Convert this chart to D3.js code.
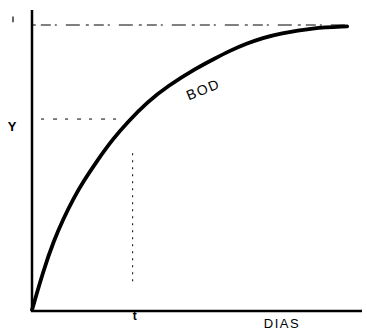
<!DOCTYPE html>
<html>
<head>
<meta charset="utf-8">
<script src="https://cdn.jsdelivr.net/npm/d3@7"></script>
<style>
  body { margin: 0; background: #fff; }
  svg { display: block; }
  text { font-family: "Liberation Sans", Arial, sans-serif; fill: #000; }
</style>
</head>
<body>
<svg width="367" height="332"></svg>
<script>
// BOD curve (days, fraction of ultimate BOD)
var days = [0, 0.7, 1.3, 1.9, 2.5, 3.1, 3.9, 4.9, 5.8, 7, 8.2, 10, 11, 12, 13, 14, 15, 17, 19.1];
var bod  = [0, 0.14, 0.24, 0.32, 0.39, 0.45, 0.52, 0.6, 0.66, 0.73, 0.785, 0.85, 0.88, 0.91, 0.935, 0.955, 0.97, 0.99, 0.995];
var tDay = 6.1;      // marked time t
var yLevel = 0.67;   // marked value Y
var xLabel = "DIAS", yLabel = "Y", curveLabel = "BOD", tLabel = "t";

var svg = d3.select("svg");
var x = d3.scaleLinear().domain([0, 20]).range([32, 362]);
var y = d3.scaleLinear().domain([0, 1]).range([310, 25]);

var pts = d3.zip(days, bod);

// guide lines
svg.append("line")
    .attr("x1", x(0.05)).attr("x2", x(19))
    .attr("y1", y(1)).attr("y2", y(1))
    .attr("stroke", "#000").attr("stroke-width", 1)
    .attr("stroke-dasharray", "3,5,10,4,2,9,14,6");

svg.append("line")
    .attr("x1", x(0.55)).attr("x2", x(5.2))
    .attr("y1", y(yLevel)).attr("y2", y(yLevel))
    .attr("stroke", "#000").attr("stroke-width", 1)
    .attr("stroke-dasharray", "3,9,4,8");

svg.append("line")
    .attr("x1", x(tDay)).attr("x2", x(tDay))
    .attr("y1", y(0.55)).attr("y2", y(0.09))
    .attr("stroke", "#000").attr("stroke-width", 1)
    .attr("stroke-dasharray", "2,5");

// axes
svg.append("line")
    .attr("x1", x(0)).attr("x2", x(0))
    .attr("y1", y(0) + 1).attr("y2", y(1.053))
    .attr("stroke", "#000").attr("stroke-width", 2.5);

svg.append("line")
    .attr("x1", x(0) - 1).attr("x2", x(20))
    .attr("y1", y(0) + 1).attr("y2", y(0) + 1)
    .attr("stroke", "#000").attr("stroke-width", 2.5);

// small mark top-left
svg.append("line")
    .attr("x1", 13).attr("x2", 13)
    .attr("y1", y(1.03)).attr("y2", y(1.01))
    .attr("stroke", "#000").attr("stroke-width", 1.2);

// curve
var line = d3.line()
    .x(function(d) { return x(d[0]); })
    .y(function(d) { return y(d[1]); })
    .curve(d3.curveBasis);

svg.append("path")
    .datum(pts)
    .attr("d", line)
    .attr("fill", "none")
    .attr("stroke", "#000")
    .attr("stroke-width", 3.8)
    .attr("stroke-linecap", "round");

// labels
svg.append("text")
    .attr("x", 12).attr("y", y(yLevel) + 12)
    .attr("text-anchor", "middle")
    .style("font-size", "13px")
    .style("font-weight", "bold")
    .text(yLabel);

svg.append("text")
    .attr("x", x(tDay) + 2).attr("y", 320)
    .attr("text-anchor", "middle")
    .style("font-size", "12px")
    .style("font-weight", "bold")
    .text(tLabel);

svg.append("text")
    .attr("x", 282).attr("y", 328)
    .attr("text-anchor", "middle")
    .style("font-size", "13px")
    .style("letter-spacing", "1.5px")
    .text(xLabel);

svg.append("text")
    .attr("transform", "translate(205,94) rotate(-22)")
    .attr("text-anchor", "middle")
    .style("font-size", "14px")
    .style("letter-spacing", "1.5px")
    .text(curveLabel);
</script>
</body>
</html>
